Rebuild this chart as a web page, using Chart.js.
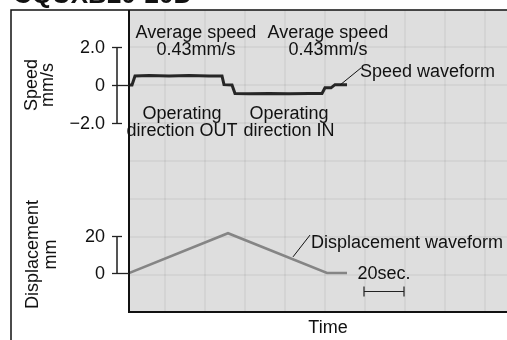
<!DOCTYPE html>
<html>
<head>
<meta charset="utf-8">
<script src="https://cdn.jsdelivr.net/npm/chart.js@4.4.1/dist/chart.umd.min.js"></script>
<style>
  body { margin: 0; background: #fff; }
  #myChart { display: block; }
</style>
</head>
<body>
<canvas id="myChart" width="507" height="340"></canvas>
<script>
// time in seconds
var speedTime = [0, 1.5, 3, 10, 20, 30, 40, 46.5, 47.5, 51.5, 53, 60, 70, 80, 90, 96.5, 98, 101, 103, 109];
var speedValues = [0, 0, 0.48, 0.5, 0.47, 0.5, 0.48, 0.48, 0.02, 0, -0.45, -0.46, -0.44, -0.46, -0.45, -0.45, -0.15, -0.15, 0.02, 0.02];
var dispTime = [0, 49.5, 99, 109];
var dispValues = [0, 21.5, 0, 0];

var speedTicks = [2, 0, -2];
var speedTickLabels = ['2.0', '0', '\u22122.0'];
var dispTicks = [20, 0];
var dispTickLabels = ['20', '0'];

var gridTimes = [18, 38, 58, 78, 98, 118, 138, 158, 178];
var gridSpeed = [2, 0, -2, -4, -6, -8, -10];

var scaleBarStart = 117.5;
var scaleBarSeconds = 20;

var FONT = '18px "Liberation Sans", Arial, sans-serif';

// labels anchored in data coordinates
var notes = [
	{ lines: ['Average speed', '0.43mm/s'], t: 33.5, v: 2.5, axis: 'ySpeed', align: 'center' },
	{ lines: ['Average speed', '0.43mm/s'], t: 99.5, v: 2.5, axis: 'ySpeed', align: 'center' },
	{ lines: ['Operating', 'direction OUT'], t: 26.5, v: -1.78, axis: 'ySpeed', align: 'center' },
	{ lines: ['Operating', 'direction IN'], t: 80, v: -1.78, axis: 'ySpeed', align: 'center' },
	{ lines: ['Speed waveform'], t: 115.5, v: 0.4, axis: 'ySpeed', align: 'left' },
	{ lines: ['Displacement waveform'], t: 91, v: 13.7, axis: 'yDisp', align: 'left' },
	{ lines: ['20sec.'], t: 127.5, v: -3.3, axis: 'yDisp', align: 'center' }
];
var leaders = [
	{ t1: 105.5, v1: 0, t2: 116, v2: 0.9, axis: 'ySpeed' },
	{ t1: 82, v1: 8.7, t2: 90.5, v2: 20.5, axis: 'yDisp' }
];

function pts(xs, ys) {
	return xs.map(function (x, i) { return { x: x, y: ys[i] }; });
}

var paper = {
	id: 'paper',
	beforeDraw: function (chart) {
		var ctx = chart.ctx, a = chart.chartArea, s = chart.scales;
		ctx.save();
		ctx.fillStyle = '#fff';
		ctx.fillRect(0, 0, chart.width, chart.height);
		ctx.fillStyle = '#dedede';
		ctx.fillRect(a.left, a.top, a.right - a.left, a.bottom - a.top);
		ctx.strokeStyle = 'rgba(0,0,0,0.045)';
		ctx.lineWidth = 2;
		gridTimes.forEach(function (t) {
			var x = Math.round(s.x.getPixelForValue(t));
			ctx.beginPath(); ctx.moveTo(x, a.top); ctx.lineTo(x, a.bottom); ctx.stroke();
		});
		gridSpeed.forEach(function (v) {
			var y = Math.round(s.ySpeed.getPixelForValue(v));
			ctx.beginPath(); ctx.moveTo(a.left, y); ctx.lineTo(a.right, y); ctx.stroke();
		});
		ctx.restore();
	},
	afterDraw: function (chart) {
		var ctx = chart.ctx, a = chart.chartArea, s = chart.scales;
		ctx.save();
		// frame
		ctx.strokeStyle = '#111';
		ctx.lineWidth = 1.5;
		ctx.beginPath();
		ctx.moveTo(11, chart.height);
		ctx.lineTo(11, a.top);
		ctx.lineTo(chart.width, a.top);
		ctx.stroke();
		ctx.lineWidth = 2;
		ctx.beginPath();
		ctx.moveTo(a.left, a.top);
		ctx.lineTo(a.left, a.bottom);
		ctx.lineTo(a.right, a.bottom);
		ctx.stroke();

		// title (cut off at the top)
		ctx.fillStyle = '#111';
		ctx.font = 'bold 26px "Liberation Sans", Arial, sans-serif';
		ctx.textAlign = 'left';
		ctx.textBaseline = 'alphabetic';
		ctx.fillText('CQUXB20-20D', 13, 3);

		// axes
		function axis(scale, ticks, labels) {
			var ax = a.left - 12;
			var yTop = scale.getPixelForValue(Math.max.apply(null, ticks));
			var yBot = scale.getPixelForValue(Math.min.apply(null, ticks));
			ctx.strokeStyle = '#555';
			ctx.lineWidth = 2;
			ctx.beginPath(); ctx.moveTo(ax, yTop); ctx.lineTo(ax, yBot); ctx.stroke();
			ctx.strokeStyle = '#222';
			ctx.lineWidth = 1.3;
			ctx.font = FONT;
			ctx.fillStyle = '#111';
			ctx.textAlign = 'right';
			ctx.textBaseline = 'middle';
			ticks.forEach(function (v, i) {
				var y = Math.round(scale.getPixelForValue(v)) + 0.5;
				ctx.beginPath();
				ctx.moveTo(ax - 5, y);
				ctx.lineTo(v === 0 ? a.left : ax + 5, y);
				ctx.stroke();
				ctx.fillText(labels[i], ax - 12, y + 1);
			});
			return (yTop + yBot) / 2;
		}
		var midS = axis(s.ySpeed, speedTicks, speedTickLabels);
		var midD = axis(s.yDisp, dispTicks, dispTickLabels);

		function rotated(lines, y, baselines) {
			ctx.save();
			ctx.font = FONT;
			ctx.fillStyle = '#111';
			ctx.textAlign = 'center';
			ctx.textBaseline = 'alphabetic';
			lines.forEach(function (txt, i) {
				ctx.save();
				ctx.translate(baselines[i], y);
				ctx.rotate(-Math.PI / 2);
				ctx.fillText(txt, 0, 0);
				ctx.restore();
			});
			ctx.restore();
		}
		rotated(['Speed', 'mm/s'], midS, [37, 53]);
		rotated(['Displacement', 'mm'], midD, [38, 56]);

		// notes
		ctx.font = FONT;
		ctx.fillStyle = '#111';
		ctx.textBaseline = 'alphabetic';
		notes.forEach(function (n) {
			var x = s.x.getPixelForValue(n.t);
			var y = s[n.axis].getPixelForValue(n.v);
			ctx.textAlign = n.align;
			n.lines.forEach(function (txt, i) {
				ctx.fillText(txt, x, y + i * 17.5);
			});
		});
		ctx.strokeStyle = '#111';
		ctx.lineWidth = 1;
		leaders.forEach(function (l) {
			ctx.beginPath();
			ctx.moveTo(s.x.getPixelForValue(l.t1), s[l.axis].getPixelForValue(l.v1));
			ctx.lineTo(s.x.getPixelForValue(l.t2), s[l.axis].getPixelForValue(l.v2));
			ctx.stroke();
		});

		// 20 sec scale bar
		var bx1 = s.x.getPixelForValue(scaleBarStart);
		var bx2 = s.x.getPixelForValue(scaleBarStart + scaleBarSeconds);
		var by = Math.round(s.yDisp.getPixelForValue(-9.7)) + 0.5;
		ctx.strokeStyle = '#222';
		ctx.lineWidth = 1.2;
		ctx.beginPath();
		ctx.moveTo(bx1, by); ctx.lineTo(bx2, by);
		ctx.moveTo(bx1, by - 5); ctx.lineTo(bx1, by + 5);
		ctx.moveTo(bx2, by - 5); ctx.lineTo(bx2, by + 5);
		ctx.stroke();

		// x axis title
		ctx.textAlign = 'center';
		ctx.fillText('Time', 328, a.bottom + 21);
		ctx.restore();
	}
};

var flightChart = new Chart(document.getElementById('myChart'), {
	type: 'line',
	data: {
		datasets: [{
			label: 'Speed waveform',
			data: pts(speedTime, speedValues),
			yAxisID: 'ySpeed',
			borderColor: '#262626',
			borderWidth: 3,
			pointRadius: 0,
			tension: 0
		}, {
			label: 'Displacement waveform',
			data: pts(dispTime, dispValues),
			yAxisID: 'yDisp',
			borderColor: '#858585',
			borderWidth: 2.5,
			pointRadius: 0,
			tension: 0
		}]
	},
	options: {
		responsive: false,
		animation: false,
		layout: { padding: { left: 129, top: 10, right: 0, bottom: 28 } },
		plugins: { legend: { display: false }, tooltip: { enabled: false } },
		scales: {
			x: { type: 'linear', min: 0, max: 189, display: false },
			ySpeed: { type: 'linear', min: -11.95, max: 3.95, display: false },
			yDisp: { type: 'linear', min: -21.1, max: 142.2, display: false }
		}
	},
	plugins: [paper]
});
</script>
</body>
</html>
